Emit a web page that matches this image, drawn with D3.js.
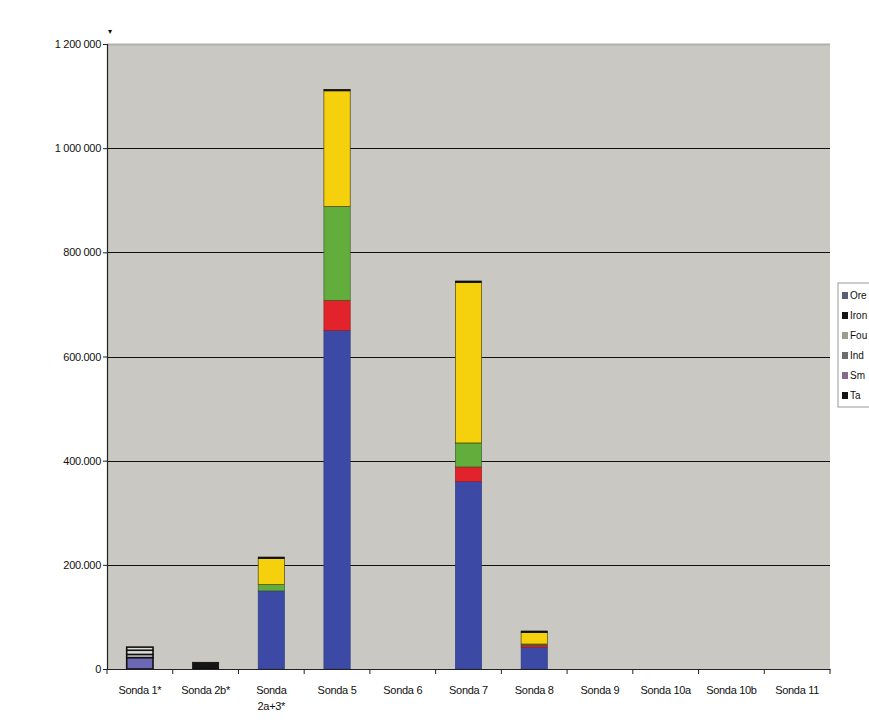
<!DOCTYPE html>
<html>
<head>
<meta charset="utf-8">
<script src="https://cdn.jsdelivr.net/npm/d3@7"></script>
<style>
  html, body { margin: 0; padding: 0; background: #ffffff; }
  svg { display: block; }
  text { font-family: "Liberation Sans Narrow", "Arial Narrow", "Liberation Sans", sans-serif; fill: #111; }
</style>
</head>
<body>
<svg id="chart" width="869" height="727"></svg>
<script>
// Categories along the x axis
const categories = ["Sonda 1*", "Sonda 2b*", "Sonda 2a+3*", "Sonda 5", "Sonda 6", "Sonda 7",
                    "Sonda 8", "Sonda 9", "Sonda 10a", "Sonda 10b", "Sonda 11"];

// Stacked series, bottom to top
const seriesBlue   = [22000, 0, 150000, 650000, 0, 360000, 42000, 0, 0, 0, 0];
const seriesRed    = [0, 0, 0, 58000, 0, 28000, 4000, 0, 0, 0, 0];
const seriesGreen  = [6000, 0, 12000, 180000, 0, 46000, 2000, 0, 0, 0, 0];
const seriesYellow = [8000, 0, 50000, 222000, 0, 308000, 22000, 0, 0, 0, 0];
const seriesCap    = [6000, 0, 3000, 3000, 0, 3000, 3000, 0, 0, 0, 0];
const seriesDark   = [0, 13000, 0, 0, 0, 0, 0, 0, 0, 0, 0];

// Y axis ticks and their printed labels
const yTicks = [0, 200000, 400000, 600000, 800000, 1000000, 1200000];
const yTickLabels = ["0", "200.000", "400.000", "600.000", "800 000", "1 000 000", "1 200 000"];

// Legend entries (right side, cut by the page edge)
const legendLabels = ["Ore", "Iron", "Fou", "Ind", "Sm", "Ta"];
const legendSwatches = ["#5a5e72", "#151515", "#9a9c90", "#6c6c6c", "#86698a", "#151515"];

const seriesKeys = ["blue", "red", "green", "yellow", "cap", "dark"];
const seriesValues = [seriesBlue, seriesRed, seriesGreen, seriesYellow, seriesCap, seriesDark];
const seriesFill = ["#3c4aa6", "#e3232b", "#63ad3c", "#f4d10c", "#161616", "#141414"];
const seriesStroke = ["#2c3680", "#8a1a1a", "#2f5a1e", "#3a3000", "#000", "#000"];
// Categories drawn in a faded, outlined style
const paleCategories = ["Sonda 1*"];

const rows = categories.map((c, i) => {
  const r = { category: c };
  seriesKeys.forEach((k, j) => r[k] = seriesValues[j][i]);
  return r;
});

const svg = d3.select("#chart");
const plot = { left: 107, right: 830, top: 44, bottom: 669 };

const x = d3.scaleBand().domain(categories).range([plot.left, plot.right]).paddingInner(0).paddingOuter(0);
const y = d3.scaleLinear().domain([0, 1200000]).range([plot.bottom, plot.top]);

// Plot background
svg.append("rect")
  .attr("x", plot.left).attr("y", plot.top)
  .attr("width", plot.right - plot.left).attr("height", plot.bottom - plot.top)
  .attr("fill", "#c9c8c3");
svg.append("line")
  .attr("x1", plot.left).attr("x2", plot.right)
  .attr("y1", plot.top + 0.5).attr("y2", plot.top + 0.5)
  .attr("stroke", "#b0b0ad").attr("stroke-width", 2);

// Gridlines
svg.append("g")
  .selectAll("line")
  .data(yTicks.filter(d => d > 0 && d < 1200000))
  .join("line")
  .attr("x1", plot.left).attr("x2", plot.right)
  .attr("y1", d => Math.round(y(d)) + 0.5).attr("y2", d => Math.round(y(d)) + 0.5)
  .attr("stroke", "#111").attr("stroke-width", 1.1);

// Stacked bars
const stack = d3.stack().keys(seriesKeys);
const stacked = stack(rows);
const barW = x.bandwidth() * 0.4;

stacked.forEach((layer, j) => {
  svg.append("g")
    .selectAll("rect")
    .data(layer.filter(d => d[1] - d[0] > 0))
    .join("rect")
    .attr("x", d => x(d.data.category) + (x.bandwidth() - barW) / 2)
    .attr("width", barW)
    .attr("y", d => y(d[1]))
    .attr("height", d => Math.max(1, y(d[0]) - y(d[1])))
    .attr("fill", d => paleCategories.includes(d.data.category)
      ? (j === 0 ? "#6d68b4" : "#dcdcd8")
      : seriesFill[j])
    .attr("stroke", d => paleCategories.includes(d.data.category) ? "#111" : seriesStroke[j])
    .attr("stroke-width", d => paleCategories.includes(d.data.category) ? 1.6 : 0.6);
});

// Y axis
const yAxis = d3.axisLeft(y)
  .tickValues(yTicks)
  .tickSize(4)
  .tickFormat((d, i) => yTickLabels[i]);
const gy = svg.append("g").attr("transform", `translate(${plot.left},0)`).call(yAxis);
gy.select(".domain").attr("stroke", "#222").attr("stroke-width", 1.2);
gy.selectAll(".tick line").attr("stroke", "#222");
gy.selectAll(".tick text")
  .attr("x", -6)
  .style("font-size", "11px")
  .style("letter-spacing", "-0.3px")
  .attr("fill", "#111");

// X axis
const xAxis = d3.axisBottom(x).tickSize(0).tickFormat("");
const gx = svg.append("g").attr("transform", `translate(0,${plot.bottom})`).call(xAxis);
gx.select(".domain").attr("stroke", "#222").attr("stroke-width", 1.2);
// separator ticks between categories
svg.append("g")
  .selectAll("line")
  .data(categories.map((c, i) => i).concat([categories.length]))
  .join("line")
  .attr("x1", i => plot.left + i * x.step()).attr("x2", i => plot.left + i * x.step())
  .attr("y1", plot.bottom).attr("y2", plot.bottom + 5)
  .attr("stroke", "#222");

// Category labels (wrapped on the longest one)
const labelG = svg.append("g");
categories.forEach(c => {
  const cx = x(c) + x.bandwidth() / 2;
  const lines = c === "Sonda 2a+3*" ? ["Sonda", "2a+3*"] : [c];
  lines.forEach((t, k) => {
    labelG.append("text")
      .attr("x", cx).attr("y", 694 + k * 16)
      .attr("text-anchor", "middle")
      .style("font-size", "11px")
      .style("letter-spacing", "-0.3px")
      .text(t);
  });
});

// Small mark above the y axis
svg.append("text")
  .attr("x", 110).attr("y", 34)
  .attr("text-anchor", "middle")
  .style("font-size", "8px")
  .text("▾");

// Legend
const lg = svg.append("g").attr("transform", "translate(838,283)");
lg.append("rect")
  .attr("x", 0).attr("y", 0).attr("width", 60).attr("height", 124)
  .attr("fill", "#fff").attr("stroke", "#9a9a9a");
legendLabels.forEach((l, i) => {
  const yy = 13 + i * 20;
  lg.append("rect")
    .attr("x", 4).attr("y", yy - 4).attr("width", 6).attr("height", 7)
    .attr("fill", legendSwatches[i]);
  lg.append("text")
    .attr("x", 12).attr("y", yy + 3)
    .style("font-size", "10px")
    .attr("fill", "#333")
    .text(l);
});
</script>
</body>
</html>
